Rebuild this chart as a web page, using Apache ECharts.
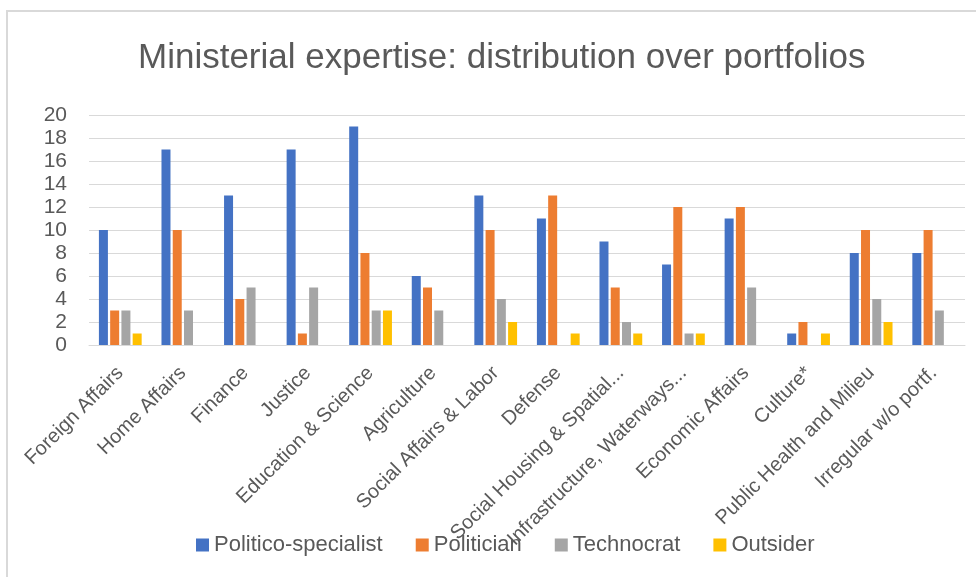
<!DOCTYPE html>
<html>
<head>
<meta charset="utf-8">
<script src="https://cdn.jsdelivr.net/npm/echarts@6/dist/echarts.min.js"></script>
<style>
  html, body { margin: 0; padding: 0; background: #fff; }
  #chart { width: 976px; height: 577px; }
</style>
</head>
<body>
<div id="chart"></div>
<script>
// portfolios
const categories = [
  "Foreign Affairs", "Home Affairs", "Finance", "Justice", "Education & Science",
  "Agriculture", "Social Affairs & Labor", "Defense", "Social Housing & Spatial...",
  "Infrastructure, Waterways...", "Economic Affairs", "Culture*",
  "Public Health and Milieu", "Irregular w/o portf."
];
// counts per expertise type (null = no bar)
const politicoSpecialist = [10, 17, 13, 17, 19, 6, 13, 11, 9, 7, 11, 1, 8, 8];
const politician = [3, 10, 4, 1, 8, 5, 10, 13, 5, 12, 12, 2, 10, 10];
const technocrat = [3, 3, 5, 5, 3, 3, 4, null, 2, 1, 5, null, 4, 3];
const outsider = [1, null, null, null, 3, null, 2, 1, 1, 1, null, 1, 2, null];

const font = "Liberation Sans";
const txt = "#595959";

const chart = echarts.init(document.getElementById("chart"));

function bar(name, data, color) {
  return {
    name: name,
    type: "bar",
    data: data,
    barWidth: 9,
    barGap: "25%",
    itemStyle: { color: color },
    emphasis: { disabled: true }
  };
}

chart.setOption({
  animation: false,
  textStyle: { fontFamily: font },
  title: {
    text: "Ministerial expertise: distribution over portfolios",
    left: 133,
    top: 36,
    textStyle: { fontFamily: font, fontSize: 35, fontWeight: "normal", color: txt }
  },
  legend: {
    bottom: 16,
    left: 191,
    icon: "rect",
    itemWidth: 13,
    itemHeight: 13,
    itemGap: 33,
    textStyle: { fontFamily: font, fontSize: 22, color: txt }
  },
  grid: { left: 89, right: 11, top: 115, bottom: 232 },
  xAxis: {
    type: "category",
    data: categories,
    axisLine: { lineStyle: { color: "#d9d9d9", width: 1 } },
    axisTick: { show: false },
    axisLabel: {
      rotate: 45,
      interval: 0,
      margin: 25,
      fontFamily: font,
      fontSize: 20,
      color: txt
    }
  },
  yAxis: {
    type: "value",
    min: 0,
    max: 20,
    interval: 2,
    axisLine: { show: false },
    axisTick: { show: false },
    splitLine: { lineStyle: { color: "#d9d9d9", width: 1 } },
    axisLabel: { fontFamily: font, fontSize: 21, color: txt, margin: 22 }
  },
  graphic: [{
    type: "polyline",
    shape: { points: [[7, 577], [7, 11], [976, 11]] },
    style: { stroke: "#d9d9d9", lineWidth: 2, fill: null },
    silent: true
  }],
  series: [
    bar("Politico-specialist", politicoSpecialist, "#4472c4"),
    bar("Politician", politician, "#ed7d31"),
    bar("Technocrat", technocrat, "#a5a5a5"),
    bar("Outsider", outsider, "#ffc000")
  ]
});
</script>
</body>
</html>
